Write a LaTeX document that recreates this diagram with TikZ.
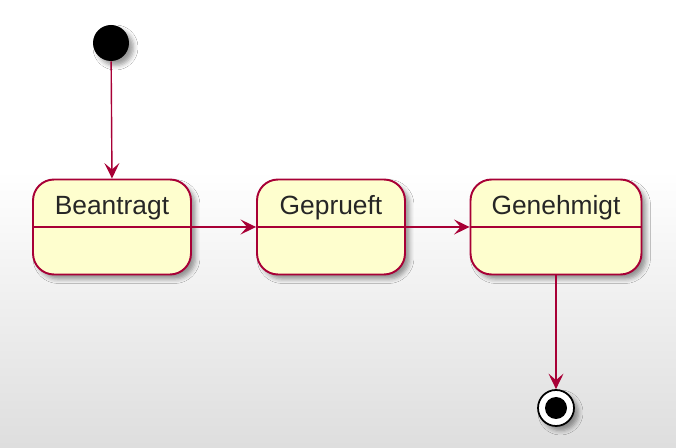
\documentclass[tikz,border=0pt]{standalone}
\usepackage{fontspec}
\setmainfont{Liberation Sans}
\usetikzlibrary{arrows.meta,shadows.blur,positioning}
\definecolor{umlred}{HTML}{A80036}
\definecolor{umlfill}{HTML}{FEFECE}

\begin{document}
\begin{tikzpicture}[x=0.02cm, y=-0.02cm, font=\fontsize{15}{18}\selectfont]
    \tikzset{
      shade/.style={blur shadow={shadow xshift=0.9mm, shadow yshift=-0.9mm,
                    shadow blur radius=0.9mm, shadow opacity=40}},
      state/.style={draw=umlred, fill=umlfill, line width=1.1pt, rounded corners=0.42cm,
                    minimum height=1.9cm, shade},
      trans/.style={draw=umlred, line width=0.8pt,
                    -{Stealth[length=3.1mm, width=3mm, inset=1.3mm]}},
      dot/.style={circle, fill=black, inner sep=0pt, minimum size=0.72cm}
    }
    % background
    \useasboundingbox (0,0) rectangle (676,448);
    \fill[white] (0,0) rectangle (676,448);
    \fill[top color=white, bottom color=black!13] (0,170) rectangle (676,448);

    \node[dot, shade] (start) at (111,43) {};
    \node[state, minimum width=3.16cm] (beantragt) at (112,227) {};
    \node[state, minimum width=2.96cm] (geprueft)  at (331,227) {};
    \node[state, minimum width=3.42cm] (genehmigt) at (556,227) {};
    \foreach \s/\t in {beantragt/Beantragt, geprueft/Geprueft, genehmigt/Genehmigt} {
      \draw[umlred, line width=1.1pt] (\s.west) -- (\s.east);
      \node[text=black!85] at ([yshift=0.38cm]\s.center) {\t};
    }
    \node[circle, draw=black, fill=white, line width=1pt, minimum size=0.72cm, shade] (end) at (556,408) {};
    \node[dot, minimum size=0.44cm] (endin) at (end) {};

    \draw[trans] (start) -- (beantragt.north);
    \draw[trans] (beantragt.east) -- (geprueft.west);
    \draw[trans] (geprueft.east) -- (genehmigt.west);
    \draw[trans] (genehmigt.south) -- (end.north);
  \end{tikzpicture}
\end{document}
